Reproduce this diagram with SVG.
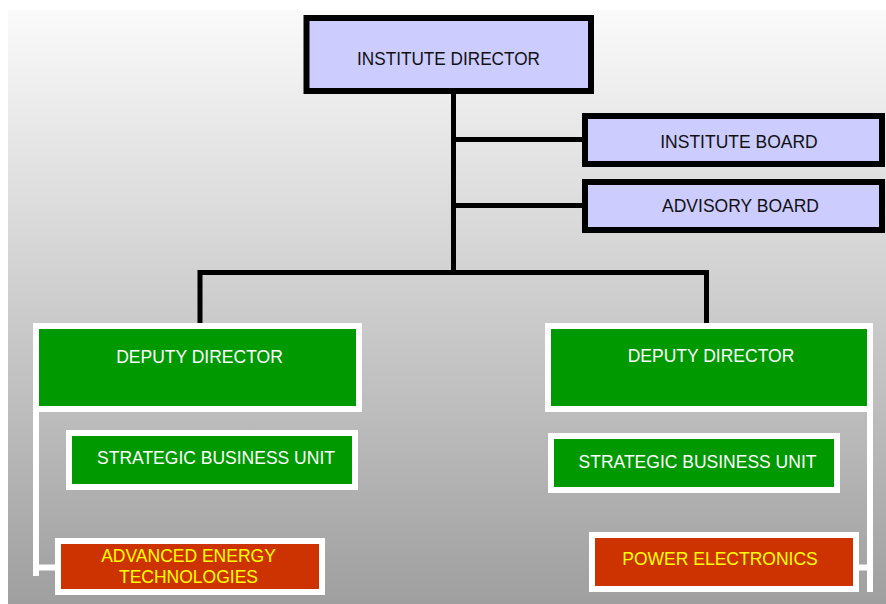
<svg xmlns="http://www.w3.org/2000/svg" width="886" height="604" viewBox="0 0 886 604">
<defs>
<linearGradient id="bg" x1="0" y1="0" x2="0" y2="1">
<stop offset="0" stop-color="#fafafa"/>
<stop offset="1" stop-color="#9f9f9f"/>
</linearGradient>
<style>
text{font-family:"Liberation Sans",Arial,sans-serif;font-size:17.5px;text-anchor:middle}
.blue{fill:#ccccff;stroke:#000;stroke-width:6}
.green{fill:#009900;stroke:#fff;stroke-width:6}
.red{fill:#cc3300;stroke:#fff;stroke-width:6}
.dark{fill:#111}
.wt{fill:#fff}
.yl{fill:#ffff00}
.blk{fill:none;stroke:#000;stroke-width:5}
.wht{fill:none;stroke:#fff;stroke-width:6}
</style>
</defs>
<rect width="886" height="604" fill="#fff"/>
<rect x="8" y="10" width="878" height="594" fill="url(#bg)"/>
<g id="connectors">
<path class="blk" d="M453.5,94 V272.5"/>
<path class="blk" d="M453.5,139.5 H585"/>
<path class="blk" d="M453.5,205.5 H585"/>
<path class="blk" d="M200,323 V272.5 H706.5 V323"/>
<path class="wht" d="M36,409 V576"/>
<path class="wht" d="M39,567.5 H56"/>
<path class="wht" d="M870,409 V592"/>
<path class="wht" d="M867,567.5 H857"/>
</g>
<g id="institute-director">
<rect class="blue" x="306.5" y="18" width="284.5" height="73"/>
<text class="dark" x="448.5" y="65" textLength="183" lengthAdjust="spacingAndGlyphs">INSTITUTE DIRECTOR</text>
</g>
<g id="institute-board">
<rect class="blue" x="585" y="116" width="297" height="48"/>
<text class="dark" x="739" y="148">INSTITUTE BOARD</text>
</g>
<g id="advisory-board">
<rect class="blue" x="585" y="182" width="297" height="48"/>
<text class="dark" x="740.5" y="212">ADVISORY BOARD</text>
</g>
<g id="deputy-director-left">
<rect class="green" x="36" y="326" width="323" height="83"/>
<text class="wt" x="199.5" y="363">DEPUTY DIRECTOR</text>
</g>
<g id="deputy-director-right">
<rect class="green" x="548" y="326" width="322" height="83"/>
<text class="wt" x="711" y="362">DEPUTY DIRECTOR</text>
</g>
<g id="sbu-left">
<rect class="green" x="69" y="433" width="286" height="54"/>
<text class="wt" x="216" y="464">STRATEGIC BUSINESS UNIT</text>
</g>
<g id="sbu-right">
<rect class="green" x="551" y="436" width="286" height="54"/>
<text class="wt" x="697.5" y="468">STRATEGIC BUSINESS UNIT</text>
</g>
<g id="advanced-energy">
<rect class="red" x="58" y="541" width="264" height="51"/>
<text class="yl" x="188.5" y="562">ADVANCED ENERGY</text>
<text class="yl" x="188.5" y="583">TECHNOLOGIES</text>
</g>
<g id="power-electronics">
<rect class="red" x="592" y="535" width="264" height="54"/>
<text class="yl" x="720" y="565">POWER ELECTRONICS</text>
</g>
</svg>
